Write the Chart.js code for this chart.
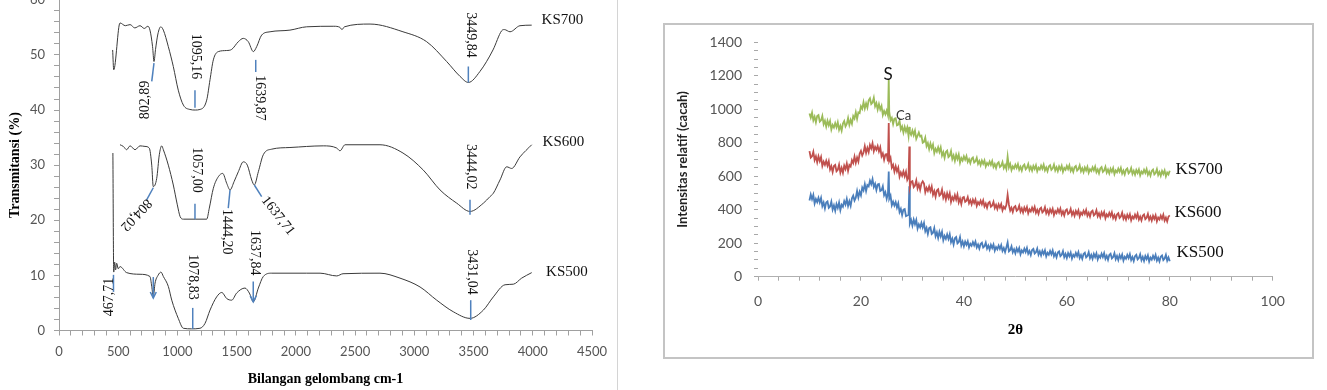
<!DOCTYPE html>
<html><head><meta charset="utf-8">
<script src="https://cdn.jsdelivr.net/npm/chart.js@4.4.1/dist/chart.umd.min.js"></script>
<style>
html,body{margin:0;padding:0;background:#fff;width:1327px;height:390px;overflow:hidden;position:relative;}
#lw{position:absolute;left:0;top:-17px;width:620px;height:407px;}
#sep{position:absolute;left:617px;top:0;width:1px;height:390px;background:#d4d4d4;}
#rframe{position:absolute;left:663px;top:23px;width:651px;height:336px;border:2px solid #c4c4c4;box-sizing:border-box;}
#rw{position:absolute;left:665px;top:22px;width:647px;height:335px;}
canvas{display:block;}
</style></head>
<body>
<div id="lw"><canvas id="c1" width="620" height="407"></canvas></div>
<div id="sep"></div>
<div id="rframe"></div>
<div id="rw"><canvas id="c2" width="647" height="335"></canvas></div>
<script>
// ---------------- FTIR data (wavenumber cm-1, transmittance %) ----------------
const ks700W = [453,462,515,560,600,640,684,720,750,768,790,802,815,835,859,881,923,965,1007,1050,1106,1150,1190,1247,1275,1303,1345,1416,1458,1514,1556,1598,1641,1669,1711,1782,1950,2091,2320,2372,2389,2410,2626,2904,3104,3273,3386,3456,3554,3664,3738,3760,3808,3892,3991];
const ks700T = [50.9,47.3,55.8,55.3,55.5,54.9,55.3,54.8,55.2,54.5,51.5,48.8,51.0,53.8,55.1,54.5,51.5,47.9,43.6,40.9,40.1,40.0,40.1,41.8,45.5,49.1,50.6,50.8,51.0,52.4,53.0,52.4,50.6,51.5,53.6,54.2,54.5,55.1,55.2,55.0,54.6,55.1,55.6,54.2,52.4,48.8,46.1,45.0,47.0,50.9,54.4,54.6,54.2,55.3,55.4];
const ks600W = [515,543,571,600,642,684,726,762,783,796,825,847,867,881,923,965,999,1022,1050,1150,1247,1269,1303,1345,1382,1416,1444,1478,1514,1556,1590,1627,1649,1683,1725,1796,1950,2231,2345,2372,2415,2710,2904,3076,3217,3358,3470,3583,3639,3667,3723,3780,3822,3892,3991];
const ks600T = [33.7,33.4,32.8,33.5,32.8,33.5,33.4,33.1,30.0,26.1,27.6,31.9,33.5,32.8,30.0,26.4,22.8,20.7,20.2,20.2,20.2,22.2,25.8,27.9,28.5,26.7,25.5,27.0,28.8,30.6,30.0,27.3,26.4,28.8,31.9,32.9,33.2,33.5,33.1,32.6,33.7,33.7,32.2,29.1,25.5,23.1,21.6,23.1,24.3,24.9,27.3,29.7,29.4,31.5,33.7];
const ks500W = [455,462,470,478,487,500,515,571,684,768,783,796,811,836,861,881,923,952,1007,1050,1120,1190,1233,1275,1331,1374,1416,1458,1500,1570,1607,1641,1683,1725,1796,2091,2204,2345,2398,2710,2879,3048,3189,3329,3470,3583,3667,3766,3836,3906,3991];
const ks500T = [32.2,10.6,12.4,11.0,12.2,11.2,11.6,10.5,10.2,9.8,8.0,6.1,8.6,10.0,10.6,9.8,8.0,5.5,2.2,0.4,0.3,0.4,1.3,3.7,6.1,6.9,5.8,5.5,6.8,7.7,6.8,5.2,7.7,9.8,10.4,10.4,10.4,9.9,10.3,10.4,9.5,7.9,5.5,3.4,2.2,3.7,6.1,8.3,8.4,9.5,10.5];
const ftirNames = ['KS700','KS600','KS500'];
const ftirXTicks = [0,500,1000,1500,2000,2500,3000,3500,4000,4500];
const ftirYTicks = [0,10,20,30,40,50,60];

// peak labels (text)
const peakText = ['802,89','1095,16','1639,87','3449,84','804,02','1057,00','1444,20','1637,71','3444,02','467,71','','1078,83','1637,84','3431,04'];

// ---------------- XRD data (2θ, counts) ----------------
const xrdAngle = [
10,10.25,10.5,10.75,11,11.25,11.5,11.75,
12,12.25,12.5,12.75,13,13.25,13.5,13.75,
14,14.25,14.5,14.75,15,15.25,15.5,15.75,
16,16.25,16.5,16.75,17,17.25,17.5,17.75,
18,18.25,18.5,18.75,19,19.25,19.5,19.75,
20,20.25,20.5,20.75,21,21.25,21.5,21.75,
22,22.25,22.5,22.75,23,23.25,23.5,23.75,
24,24.25,24.5,24.75,25,25.25,25.4,25.5,25.75,
26,26.25,26.5,26.75,27,27.25,27.5,27.75,
28,28.25,28.5,28.75,29,29.25,29.4,29.5,29.75,
30,30.25,30.5,30.75,31,31.25,31.5,31.75,
32,32.25,32.5,32.75,33,33.25,33.5,33.75,
34,34.25,34.5,34.75,35,35.25,35.5,35.75,
36,36.25,36.5,36.75,37,37.25,37.5,37.75,
38,38.25,38.5,38.75,39,39.25,39.5,39.75,
40,40.25,40.5,40.75,41,41.25,41.5,41.75,
42,42.25,42.5,42.75,43,43.25,43.5,43.75,
44,44.25,44.5,44.75,45,45.25,45.5,45.75,
46,46.25,46.5,46.75,47,47.25,47.5,47.75,
48,48.25,48.5,48.75,49,49.25,49.5,49.75,
50,50.25,50.5,50.75,51,51.25,51.5,51.75,
52,52.25,52.5,52.75,53,53.25,53.5,53.75,
54,54.25,54.5,54.75,55,55.25,55.5,55.75,
56,56.25,56.5,56.75,57,57.25,57.5,57.75,
58,58.25,58.5,58.75,59,59.25,59.5,59.75,
60,60.25,60.5,60.75,61,61.25,61.5,61.75,
62,62.25,62.5,62.75,63,63.25,63.5,63.75,
64,64.25,64.5,64.75,65,65.25,65.5,65.75,
66,66.25,66.5,66.75,67,67.25,67.5,67.75,
68,68.25,68.5,68.75,69,69.25,69.5,69.75,
70,70.25,70.5,70.75,71,71.25,71.5,71.75,
72,72.25,72.5,72.75,73,73.25,73.5,73.75,
74,74.25,74.5,74.75,75,75.25,75.5,75.75,
76,76.25,76.5,76.75,77,77.25,77.5,77.75,
78,78.25,78.5,78.75,79,79.25,79.5,79.75,
80];
const xrdKS700 = [
975,950,980,934,956,923,960,966,
926,934,961,911,932,897,932,905,
930,880,907,891,918,893,923,878,
901,873,915,930,898,913,948,907,
937,914,960,945,982,943,982,978,
1018,1003,1043,1005,1036,1010,1054,1066,
1032,1041,1070,1018,1037,999,1031,999,
1020,966,990,970,993,964,1177,987,934,
949,912,944,947,904,908,932,879,
897,861,895,867,892,841,895,864,847,
873,846,873,823,842,862,838,843,
801,806,831,780,799,763,796,767,
790,738,764,747,773,746,773,724,
744,710,746,754,715,723,751,703,
725,692,729,703,730,681,709,694,
719,699,721,686,702,678,705,712,
682,690,711,674,691,667,694,675,
695,658,679,667,688,668,691,656,
673,649,677,684,655,663,685,649,
667,644,718,653,674,637,659,647,
669,650,673,639,657,634,662,670,
642,651,673,638,657,634,662,644,
666,630,652,641,664,645,669,635,
653,630,658,666,638,647,670,635,
654,631,659,641,663,627,650,639,
662,643,666,632,649,626,654,662,
634,643,665,630,648,625,653,635,
657,621,643,632,654,635,658,624,
641,618,647,655,626,635,657,622,
640,617,645,627,649,613,635,624,
646,627,650,616,634,611,639,647,
618,627,649,614,633,610,638,620,
641,605,628,617,639,620,643,609,
627,604,632,640,611,620,643,608,
626,603,632,614,635,599,622,611,
633];
const xrdKS600 = [
750,711,719,747,697,719,684,719,
691,715,662,687,668,693,664,690,
640,660,625,661,668,630,639,669,
622,650,621,664,643,676,632,667,
658,696,679,718,680,712,688,735,
752,724,742,780,740,770,744,787,
766,797,750,776,758,781,749,773,
720,737,698,730,732,689,918,692,711,
652,668,628,660,629,652,598,623,
603,629,600,627,578,594,778,533,567,
571,535,545,575,528,552,519,557,
570,556,504,531,513,539,511,539,
490,512,478,515,522,484,492,521,
472,495,461,498,471,498,447,475,
458,487,461,491,444,467,434,472,
476,447,454,476,439,457,432,460,
440,461,423,445,432,454,433,456,
420,437,412,440,447,418,425,447,
411,429,404,432,413,434,396,418,
406,428,489,430,395,412,387,415,
422,394,402,425,389,408,384,413,
394,416,379,402,390,413,393,417,
382,400,376,405,412,384,392,415,
379,398,374,403,384,406,369,392,
380,403,383,407,372,390,366,395,
402,374,382,405,369,388,364,393,
375,397,360,383,371,394,375,399,
364,382,359,388,395,366,374,397,
361,379,355,384,365,386,349,372,
360,382,362,385,350,368,344,372,
379,351,359,382,346,365,341,370,
351,373,337,360,348,371,352,376,
341,359,336,365,372,344,352,375,
340,359,335,364,345,367,331,354,
342,365,346,370,335,353,330,359,
366];
const xrdKS500 = [
455,491,463,489,437,464,446,472,
444,471,422,443,408,444,450,411,
419,449,401,426,394,434,411,443,
397,430,418,452,431,465,423,451,
423,468,484,455,472,512,474,508,
486,533,516,553,512,548,540,574,
553,583,536,555,518,551,554,512,
517,541,487,505,466,498,628,466,485,
427,448,425,446,413,438,386,405,
368,401,404,362,366,370,540,317,339,
305,341,313,339,287,313,295,322,
294,321,271,291,255,290,295,255,
262,291,242,265,231,268,241,268,
217,244,226,253,226,254,206,227,
193,230,237,199,207,236,187,210,
182,210,191,212,175,197,185,207,
187,210,175,192,168,196,203,174,
182,204,168,186,162,190,171,192,
155,177,164,186,166,189,154,171,
147,175,205,152,160,182,146,164,
140,169,150,171,134,157,145,168,
148,172,137,154,130,159,166,138,
146,168,132,151,127,155,136,158,
121,143,131,154,134,157,122,140,
116,144,151,123,131,153,117,136,
112,141,122,144,108,131,119,142,
123,147,112,130,107,136,143,115,
124,147,111,130,107,136,117,139,
103,126,114,137,117,141,107,125,
101,130,137,109,118,141,105,124,
100,129,110,132,96,119,107,130,
111,135,100,118,94,123,131,103,
111,134,99,118,94,123,105,127,
91,114,102,125,106,130,96,114,
91,120,127,99,108,131,96,115,
92];
const xrdNames = ['KS700','KS600','KS500'];
const xrdPhases = ['S','Ca'];
const xrdXTicks = [0,20,40,60,80,100];
const xrdYTicks = [0,200,400,600,800,1000,1200,1400];

// ---------------- layout of annotations (data units, drawn through scales) ----------------
const peakLayout = [
  {line:[[802,48.5],[783,45.2]], text:[726,41.8], rot:-90},
  {line:[[1148,43.6],[1148,40.4]], text:[1157,49.7], rot:90},
  {line:[[1661,49.1],[1661,46.9]], text:[1697,42.2], rot:90},
  {line:[[3456,47.9],[3456,45.0]], text:[3476,53.6], rot:90},
  {line:[[796,25.9],[740,23.7]], text:[650,21.0], rot:133},
  {line:[[1148,23.0],[1148,20.2]], text:[1163,29.1], rot:90},
  {line:[[1444,25.5],[1429,22.2]], text:[1418,17.9], rot:90},
  {line:[[1649,26.4],[1711,24.3]], text:[1849,20.8], rot:52},
  {line:[[3470,23.7],[3470,21.0]], text:[3476,29.7], rot:90},
  {line:[[460,10.1],[460,7.0]], text:[422,6.1], rot:-90},
  {line:[[796,9.7],[796,5.9]], arrow:true},
  {line:[[1129,4.1],[1129,0.3]], text:[1129,9.7], rot:90},
  {line:[[1640,8.9],[1640,5.2]], text:[1655,14.1], rot:90, arrow:true},
  {line:[[3476,5.5],[3476,1.9]], text:[3484,10.6], rot:90}
];
const ftirNamePos = [[4074,56.4],[4083,34.2],[4112,10.6]];
const xrdNamePos = [[81.1,638],[80.9,383],[81.3,144]];
const xrdPhasePos = [[25.3,1207],[28.3,961]];

Chart.defaults.font.family = 'Lato';

function zip(xs, ys){ return xs.map((v,i)=>({x:v, y:ys[i]})); }

const ftirAnno = {
  id:'ftirAnno',
  afterDatasetsDraw(chart){
    const {ctx, scales:{x, y}} = chart;
    ctx.save();
    peakLayout.forEach((p, i) => {
      const [a, b] = p.line;
      const x1 = x.getPixelForValue(a[0]), y1 = y.getPixelForValue(a[1]);
      const x2 = x.getPixelForValue(b[0]), y2 = y.getPixelForValue(b[1]);
      ctx.strokeStyle = '#4f81bd'; ctx.lineWidth = 1.5;
      ctx.beginPath(); ctx.moveTo(x1, y1); ctx.lineTo(x2, y2); ctx.stroke();
      if (p.arrow) {
        ctx.beginPath(); ctx.moveTo(x2-3, y2-6); ctx.lineTo(x2, y2); ctx.lineTo(x2+3, y2-6); ctx.stroke();
      }
      const t = peakText[i];
      if (t && p.text) {
        ctx.save();
        ctx.translate(x.getPixelForValue(p.text[0]), y.getPixelForValue(p.text[1]));
        ctx.rotate(p.rot * Math.PI / 180);
        ctx.font = '14px "Liberation Serif"';
        ctx.fillStyle = '#111';
        ctx.textAlign = 'center'; ctx.textBaseline = 'middle';
        ctx.fillText(t, 0, 0);
        ctx.restore();
      }
    });
    ctx.font = '15px "Liberation Serif"';
    ctx.fillStyle = '#111';
    ctx.textAlign = 'left'; ctx.textBaseline = 'middle';
    ftirNames.forEach((n, i) => {
      ctx.fillText(n, x.getPixelForValue(ftirNamePos[i][0]), y.getPixelForValue(ftirNamePos[i][1]));
    });
    ctx.restore();
  }
};

const xrdAnno = {
  id:'xrdAnno',
  afterDatasetsDraw(chart){
    const {ctx, scales:{x, y}} = chart;
    ctx.save();
    ctx.font = '17px "Liberation Serif"';
    ctx.fillStyle = '#111';
    ctx.textAlign = 'left'; ctx.textBaseline = 'middle';
    xrdNames.forEach((n, i) => {
      ctx.fillText(n, x.getPixelForValue(xrdNamePos[i][0]), y.getPixelForValue(xrdNamePos[i][1]));
    });
    ctx.textAlign = 'center';
    ctx.font = '17px Lato';
    ctx.fillText(xrdPhases[0], x.getPixelForValue(xrdPhasePos[0][0]), y.getPixelForValue(xrdPhasePos[0][1]));
    ctx.font = '13px Lato';
    ctx.fillStyle = '#333';
    ctx.fillText(xrdPhases[1], x.getPixelForValue(xrdPhasePos[1][0]), y.getPixelForValue(xrdPhasePos[1][1]));
    ctx.restore();
  }
};

const ftirColor = '#3a3a3a';
new Chart(document.getElementById('c1'), {
  type:'line',
  data:{datasets:[
    {label:ftirNames[0], data:zip(ks700W, ks700T), borderColor:ftirColor, borderWidth:1, pointRadius:0, cubicInterpolationMode:'monotone', fill:false},
    {label:ftirNames[1], data:zip(ks600W, ks600T), borderColor:ftirColor, borderWidth:1, pointRadius:0, cubicInterpolationMode:'monotone', fill:false},
    {label:ftirNames[2], data:zip(ks500W, ks500T), borderColor:ftirColor, borderWidth:1, pointRadius:0, cubicInterpolationMode:'monotone', fill:false}
  ]},
  options:{
    responsive:false, animation:false, devicePixelRatio:1,
    layout:{padding:{left:0, top:0, right:28, bottom:0}},
    plugins:{legend:{display:false}, tooltip:{enabled:false}},
    scales:{
      x:{type:'linear', min:0, max:4500,
        afterFit:s=>{s.height = 59.5;},
        grid:{display:true, drawOnChartArea:false, drawTicks:true, tickLength:5, color:'#a0a0a0'},
        border:{display:true, color:'#a0a0a0', width:1},
        ticks:{stepSize:100, autoSkip:false, maxRotation:0, minRotation:0, padding:9, color:'#555', font:{size:13},
          callback:v => ftirXTicks.includes(v) ? String(v) : ''},
        title:{display:true, text:'Bilangan gelombang cm-1', color:'#000', font:{family:'Liberation Serif', size:14, weight:'bold'}, padding:{top:0, bottom:2}}
      },
      y:{type:'linear', min:0, max:60,
        afterFit:s=>{s.width = 59;},
        grid:{display:true, drawOnChartArea:false, drawTicks:true, tickLength:5, color:'#a0a0a0'},
        border:{display:true, color:'#a0a0a0', width:1},
        ticks:{stepSize:2, autoSkip:false, padding:9, color:'#555', font:{size:13},
          callback:v => ftirYTicks.includes(v) ? String(v) : ''},
        title:{display:true, text:'Transmitansi (%)', color:'#000', font:{family:'Liberation Serif', size:14, weight:'bold'}, padding:{top:7, bottom:0}}
      }
    }
  },
  plugins:[ftirAnno]
});

new Chart(document.getElementById('c2'), {
  type:'line',
  data:{datasets:[
    {label:xrdNames[0], data:zip(xrdAngle, xrdKS700), borderColor:'#9bbb59', borderWidth:1.8, pointRadius:0, tension:0, fill:false},
    {label:xrdNames[1], data:zip(xrdAngle, xrdKS600), borderColor:'#c0504d', borderWidth:1.8, pointRadius:0, tension:0, fill:false},
    {label:xrdNames[2], data:zip(xrdAngle, xrdKS500), borderColor:'#4a7ebb', borderWidth:1.8, pointRadius:0, tension:0, fill:false}
  ]},
  options:{
    responsive:false, animation:false, devicePixelRatio:1,
    layout:{padding:{left:0, top:0, right:39.3, bottom:0}},
    plugins:{legend:{display:false}, tooltip:{enabled:false}},
    scales:{
      x:{type:'linear', min:0, max:100,
        afterFit:s=>{s.height = 80.3;},
        grid:{display:true, drawOnChartArea:false, drawTicks:true, tickLength:4, color:'#a8a8a8'},
        border:{display:true, color:'#b0b0b0', width:1},
        ticks:{stepSize:4, autoSkip:false, maxRotation:0, minRotation:0, padding:12, color:'#555', font:{size:14},
          callback:v => xrdXTicks.includes(v) ? String(v) : ''},
        title:{display:true, text:'2θ', color:'#000', font:{family:'Liberation Serif', size:15, weight:'bold'}, padding:{top:0, bottom:18}}
      },
      y:{type:'linear', min:0, max:1400,
        afterFit:s=>{s.width = 93;},
        grid:{display:true, drawOnChartArea:false, drawTicks:true, tickLength:4, color:'#a8a8a8'},
        border:{display:false},
        ticks:{stepSize:50, autoSkip:false, padding:12, color:'#555', font:{size:14},
          callback:v => xrdYTicks.includes(v) ? String(v) : ''},
        title:{display:true, text:'Intensitas relatif (cacah)', color:'#222', font:{size:13, weight:'bold'}, padding:{top:10, bottom:0}}
      }
    }
  },
  plugins:[xrdAnno]
});
</script>
</body></html>
